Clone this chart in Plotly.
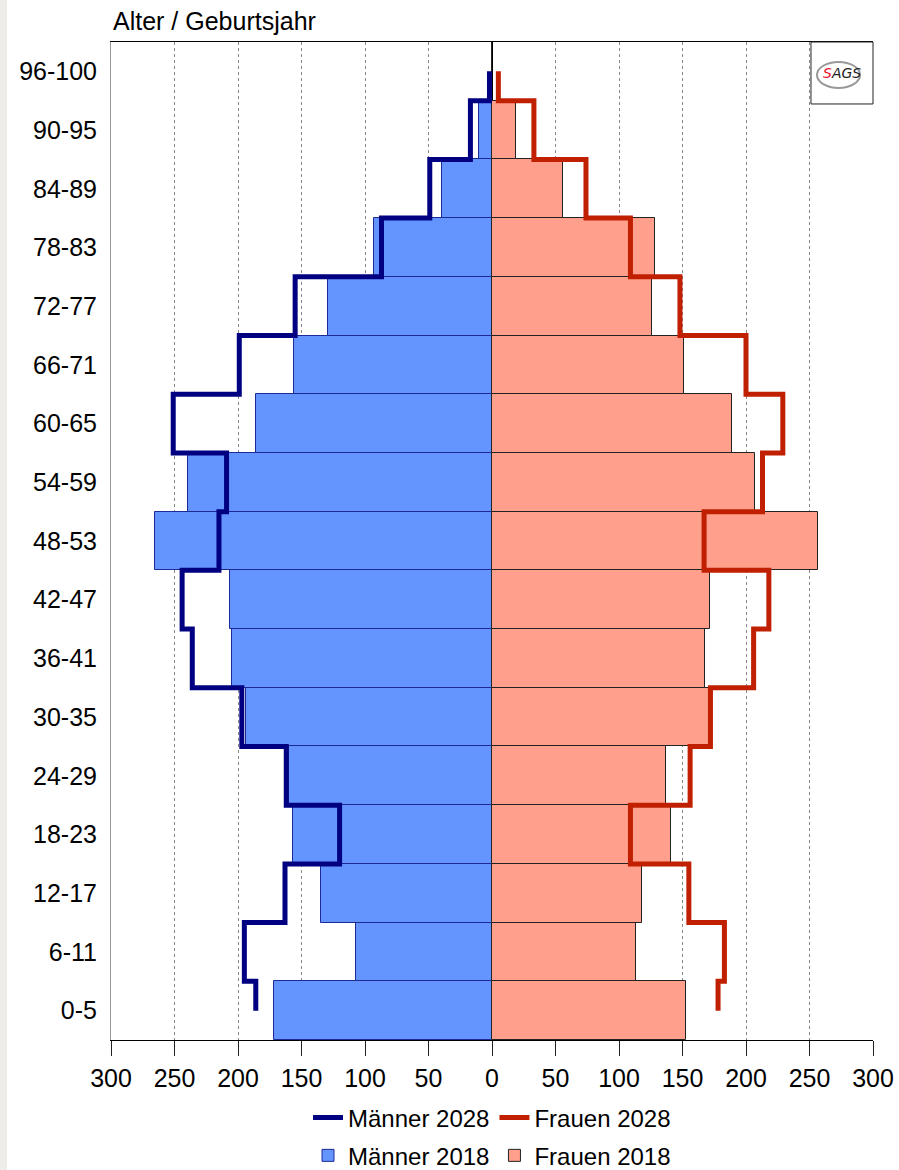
import plotly.graph_objects as go

# ---- data (bottom row first) ----
age_groups = ["0-5", "6-11", "12-17", "18-23", "24-29", "30-35", "36-41", "42-47",
              "48-53", "54-59", "60-65", "66-71", "72-77", "78-83", "84-89", "90-95", "96-100"]
men_2018 = [172, 107, 135, 157, 160, 194, 205, 206, 265, 239, 186, 156, 129, 93, 39, 10, 0]
women_2018 = [153, 113, 118, 141, 137, 171, 168, 172, 257, 207, 189, 151, 126, 128, 56, 19, 0]
men_2028 = [186, 195, 163, 120, 162, 197, 236, 244, 215, 209, 251, 199, 155, 87, 49, 17, 2]
women_2028 = [178, 183, 155, 109, 156, 172, 206, 218, 167, 213, 229, 200, 148, 109, 74, 33, 5]
x_ticks = [-300, -250, -200, -150, -100, -50, 0, 50, 100, 150, 200, 250, 300]
x_tick_labels = [str(abs(v)) for v in x_ticks]

pos = list(range(len(age_groups)))
FONT = "Liberation Sans, Arial, sans-serif"
FS = 25
LFS = 24

fig = go.Figure()

fig.add_trace(go.Bar(
    y=pos, x=[-v for v in men_2018], orientation="h", width=1,
    name="Männer 2018", legend="legend2",
    marker=dict(color="#6495ff", line=dict(color="#1c2a96", width=1)),
))
fig.add_trace(go.Bar(
    y=pos, x=women_2018, orientation="h", width=1,
    name="Frauen 2018", legend="legend2",
    marker=dict(color="#ff9f8c", line=dict(color="#222222", width=1)),
))
fig.add_trace(go.Scatter(
    y=pos, x=[-v for v in men_2028], mode="lines", name="Männer 2028",
    line=dict(shape="vhv", color="#000080", width=5), legend="legend",
))
fig.add_trace(go.Scatter(
    y=pos, x=women_2028, mode="lines", name="Frauen 2028",
    line=dict(shape="vhv", color="#c02000", width=5), legend="legend",
))

axis_rng = [-300, 300]
fig.update_layout(
    width=899, height=1170,
    margin=dict(l=111, r=26, t=42, b=130, autoexpand=False),
    paper_bgcolor="white", plot_bgcolor="white",
    barmode="overlay", bargap=0,
    font=dict(family=FONT, size=FS, color="black"),
    xaxis=dict(
        range=axis_rng, tickvals=x_ticks, ticktext=x_tick_labels,
        showgrid=True, gridcolor="#888888", griddash="dot", gridwidth=1,
        zeroline=True, zerolinecolor="black", zerolinewidth=1,
        showline=True, linecolor="black", linewidth=1, mirror=True,
        ticks="outside", ticklen=15, tickcolor="#222222", tickwidth=1,
        ticklabelstandoff=1, automargin=False,
        tickfont=dict(family=FONT, size=FS), fixedrange=True,
    ),
    xaxis2=dict(
        range=axis_rng, tickvals=x_ticks, overlaying="x", side="bottom", anchor="y",
        showgrid=False, zeroline=False, showline=False,
        ticks="inside", ticklen=13, tickcolor="#333333", tickwidth=1,
        showticklabels=False, automargin=False,
    ),
    yaxis=dict(
        range=[-0.5, len(age_groups) - 0.5], tickvals=pos, ticktext=age_groups,
        showgrid=False, zeroline=False,
        showline=True, linecolor="#999999", linewidth=1,
        ticks="", ticklabelstandoff=8, automargin=False,
        tickfont=dict(family=FONT, size=FS),
    ),
    yaxis2=dict(
        range=[-0.5, len(age_groups) - 0.5], overlaying="y", side="right", anchor="x",
        showgrid=False, zeroline=False, showticklabels=False, ticks="",
        showline=True, linecolor="#222222", linewidth=1, automargin=False,
    ),
    legend=dict(
        orientation="h", x=0.5, xanchor="center", y=-0.078, yanchor="middle",
        font=dict(family=FONT, size=LFS), itemwidth=30, bgcolor="rgba(0,0,0,0)",
    ),
    legend2=dict(
        orientation="h", x=0.5, xanchor="center", y=-0.116, yanchor="middle",
        font=dict(family=FONT, size=LFS), itemwidth=30, bgcolor="rgba(0,0,0,0)",
    ),
    showlegend=True,
)

# title
fig.add_annotation(
    text="Alter / Geburtsjahr", xref="paper", yref="paper", x=0, y=1,
    xanchor="left", yanchor="bottom", showarrow=False, yshift=5,
    font=dict(family=FONT, size=FS, color="black"),
)

# SAGS logo box
fig.add_shape(type="rect", xref="x domain", yref="y domain",
              x0=0.9186, x1=1.0, y0=0.9379, y1=1.0,
              line=dict(color="#222222", width=1), fillcolor="white", layer="above")
fig.add_shape(type="circle", xref="x domain", yref="y domain",
              x0=0.9265, x1=0.983, y0=0.954, y1=0.980,
              line=dict(color="#999999", width=2), layer="above")
fig.add_annotation(
    text="<i><span style='color:#e8102a'>S</span>AGS</i>", xref="x domain", yref="y domain",
    x=0.959, y=0.9689, showarrow=False, xanchor="center", yanchor="middle",
    font=dict(family="DejaVu Sans, sans-serif", size=14, color="#222222"), bgcolor="rgba(0,0,0,0)",
)

# light page strip on the left
fig.add_shape(type="rect", xref="paper", yref="paper",
              x0=-0.1457, x1=-0.1365, y0=-0.1303, y1=1.042,
              line=dict(width=0), fillcolor="#eeede9", layer="below")

fig.write_html(
    "out.html",
    config={"displayModeBar": False},
    post_script="document.body.style.margin='0';document.body.style.overflow='hidden';",
)
